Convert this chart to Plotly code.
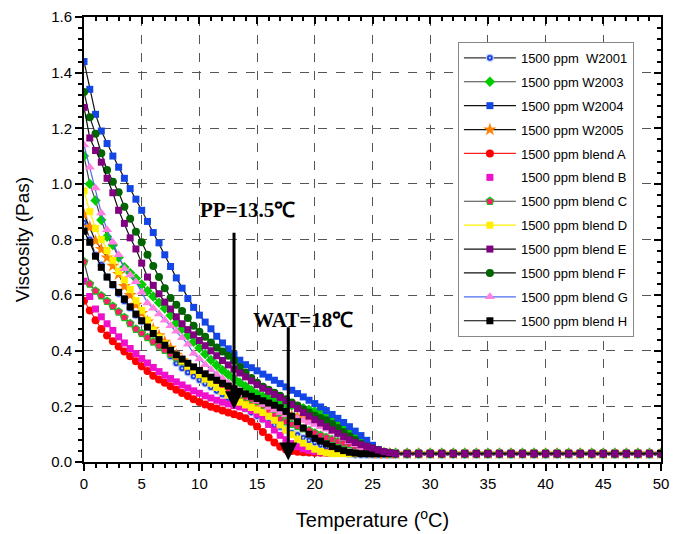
import plotly.graph_objects as go

# Temperature grid (deg C)
temperature = [0, 0.5, 1, 1.5, 2, 2.5, 3, 3.5, 4, 4.5,
               5, 5.5, 6, 6.5, 7, 7.5, 8, 8.5, 9, 9.5,
               10, 10.5, 11, 11.5, 12, 12.5, 13, 13.5, 14, 14.5,
               15, 15.5, 16, 16.5, 17, 17.5, 18, 18.5, 19, 19.5,
               20, 20.5, 21, 21.5, 22, 22.5, 23, 23.5, 24, 24.5,
               25, 25.5, 26, 26.5, 27,
               28, 29, 30, 31, 32, 33, 34, 35, 36, 37, 38, 39, 40,
               41, 42, 43, 44, 45, 46, 47, 48, 49, 50]

w2001 = [0.86, 0.80, 0.745, 0.71, 0.665, 0.635, 0.605, 0.578, 0.553, 0.527,
         0.505, 0.485, 0.46, 0.432, 0.405, 0.38, 0.355, 0.337, 0.322, 0.308,
         0.295, 0.282, 0.269, 0.256, 0.243, 0.23, 0.218, 0.205, 0.192, 0.178,
         0.165, 0.153, 0.141, 0.133, 0.126, 0.116, 0.105, 0.097, 0.087, 0.078,
         0.07, 0.062, 0.055, 0.048, 0.04, 0.033, 0.028, 0.026, 0.025, 0.025,
         0.025, 0.025, 0.025, 0.025, 0.025,
         0.025, 0.025, 0.025, 0.025, 0.025, 0.025, 0.025, 0.025, 0.025, 0.025, 0.025, 0.025, 0.025,
         0.025, 0.025, 0.025, 0.025, 0.025, 0.025, 0.025, 0.025, 0.025, 0.025]

w2003 = [1.10, 1.00, 0.94, 0.87, 0.81, 0.78, 0.735, 0.70, 0.68, 0.66,
         0.638, 0.615, 0.595, 0.573, 0.552, 0.527, 0.50, 0.478, 0.455, 0.432,
         0.41, 0.388, 0.367, 0.348, 0.33, 0.314, 0.299, 0.285, 0.272, 0.258,
         0.245, 0.236, 0.228, 0.221, 0.214, 0.208, 0.203, 0.198, 0.193, 0.188,
         0.183, 0.176, 0.168, 0.158, 0.145, 0.128, 0.11, 0.092, 0.075, 0.062,
         0.05, 0.041, 0.035, 0.031, 0.03,
         0.03, 0.03, 0.03, 0.03, 0.03, 0.03, 0.03, 0.03, 0.03, 0.03, 0.03, 0.03, 0.03,
         0.03, 0.03, 0.03, 0.03, 0.03, 0.03, 0.03, 0.03, 0.03, 0.03]

w2004 = [1.44, 1.34, 1.25, 1.19, 1.145, 1.10, 1.06, 1.02, 0.983, 0.945,
         0.905, 0.865, 0.825, 0.788, 0.745, 0.703, 0.662, 0.625, 0.588, 0.556,
         0.528, 0.503, 0.479, 0.452, 0.428, 0.407, 0.386, 0.366, 0.35, 0.339,
         0.328, 0.316, 0.305, 0.294, 0.282, 0.27, 0.258, 0.246, 0.234, 0.222,
         0.21, 0.198, 0.185, 0.171, 0.157, 0.142, 0.127, 0.111, 0.095, 0.078,
         0.06, 0.045, 0.035, 0.03, 0.028,
         0.028, 0.028, 0.028, 0.028, 0.028, 0.028, 0.028, 0.028, 0.028, 0.028, 0.028, 0.028, 0.028,
         0.028, 0.028, 0.028, 0.028, 0.028, 0.028, 0.028, 0.028, 0.028, 0.028]

w2005 = [0.89, 0.845, 0.795, 0.765, 0.735, 0.705, 0.675, 0.632, 0.60, 0.565,
         0.535, 0.505, 0.478, 0.455, 0.432, 0.41, 0.385, 0.365, 0.345, 0.33,
         0.316, 0.302, 0.29, 0.278, 0.265, 0.252, 0.24, 0.228, 0.217, 0.207,
         0.198, 0.19, 0.183, 0.178, 0.174, 0.17, 0.166, 0.162, 0.157, 0.152,
         0.146, 0.14, 0.132, 0.12, 0.105, 0.09, 0.075, 0.062, 0.05, 0.04,
         0.032, 0.03, 0.03, 0.03, 0.03,
         0.03, 0.03, 0.03, 0.03, 0.03, 0.03, 0.03, 0.03, 0.03, 0.03, 0.03, 0.03, 0.03,
         0.03, 0.03, 0.03, 0.03, 0.03, 0.03, 0.03, 0.03, 0.03, 0.03]

blend_a = [0.58, 0.545, 0.51, 0.478, 0.455, 0.434, 0.415, 0.397, 0.38, 0.362,
           0.344, 0.327, 0.31, 0.297, 0.285, 0.272, 0.26, 0.248, 0.237, 0.226,
           0.216, 0.207, 0.199, 0.192, 0.185, 0.178, 0.172, 0.165, 0.157, 0.145,
           0.128, 0.108, 0.088, 0.07, 0.055, 0.045, 0.04, 0.037, 0.035, 0.034,
           0.033, 0.033, 0.033, 0.033, 0.033, 0.033, 0.033, 0.033, 0.033, 0.033,
           0.033, 0.033, 0.033, 0.033, 0.033,
           0.033, 0.033, 0.033, 0.033, 0.033, 0.033, 0.033, 0.033, 0.033, 0.033, 0.033, 0.033, 0.033,
           0.033, 0.033, 0.033, 0.033, 0.033, 0.033, 0.033, 0.033, 0.033, 0.033]

blend_b = [0.65, 0.595, 0.55, 0.522, 0.497, 0.473, 0.45, 0.428, 0.408, 0.39,
           0.372, 0.356, 0.34, 0.325, 0.312, 0.30, 0.288, 0.277, 0.266, 0.256,
           0.247, 0.238, 0.23, 0.222, 0.215, 0.209, 0.203, 0.198, 0.193, 0.185,
           0.172, 0.155, 0.135, 0.115, 0.096, 0.08, 0.066, 0.055, 0.047, 0.042,
           0.038, 0.035, 0.033, 0.032, 0.032, 0.032, 0.032, 0.032, 0.032, 0.032,
           0.032, 0.032, 0.032, 0.032, 0.032,
           0.032, 0.032, 0.032, 0.032, 0.032, 0.032, 0.032, 0.032, 0.032, 0.032, 0.032, 0.032, 0.032,
           0.032, 0.032, 0.032, 0.032, 0.032, 0.032, 0.032, 0.032, 0.032, 0.032]

blend_c = [0.72, 0.64, 0.615, 0.598, 0.578, 0.56, 0.54, 0.52, 0.498, 0.478,
           0.463, 0.448, 0.432, 0.417, 0.402, 0.388, 0.375, 0.362, 0.349, 0.335,
           0.32, 0.306, 0.293, 0.281, 0.27, 0.26, 0.25, 0.242, 0.234, 0.226,
           0.218, 0.205, 0.185, 0.168, 0.155, 0.145, 0.136, 0.128, 0.12, 0.113,
           0.104, 0.096, 0.088, 0.081, 0.074, 0.068, 0.063, 0.055, 0.046, 0.038,
           0.034, 0.033, 0.033, 0.033, 0.033,
           0.033, 0.033, 0.033, 0.033, 0.033, 0.033, 0.033, 0.033, 0.033, 0.033, 0.033, 0.033, 0.033,
           0.033, 0.033, 0.033, 0.033, 0.033, 0.033, 0.033, 0.033, 0.033, 0.033]

blend_d = [0.975, 0.90, 0.84, 0.80, 0.76, 0.725, 0.685, 0.655, 0.62, 0.58,
           0.545, 0.51, 0.475, 0.448, 0.425, 0.403, 0.382, 0.363, 0.345, 0.33,
           0.314, 0.298, 0.283, 0.268, 0.254, 0.24, 0.227, 0.215, 0.205, 0.196,
           0.187, 0.178, 0.165, 0.15, 0.133, 0.115, 0.098, 0.082, 0.068, 0.056,
           0.046, 0.038, 0.033, 0.03, 0.03, 0.03, 0.03, 0.03, 0.03, 0.03,
           0.03, 0.03, 0.03, 0.03, 0.03,
           0.03, 0.03, 0.03, 0.03, 0.03, 0.03, 0.03, 0.03, 0.03, 0.03, 0.03, 0.03, 0.03,
           0.03, 0.03, 0.03, 0.03, 0.03, 0.03, 0.03, 0.03, 0.03, 0.03]

blend_e = [1.275, 1.165, 1.12, 1.078, 1.02, 0.968, 0.905, 0.858, 0.806, 0.766,
           0.715, 0.665, 0.635, 0.605, 0.575, 0.55, 0.522, 0.497, 0.476, 0.457,
           0.437, 0.418, 0.40, 0.382, 0.365, 0.349, 0.334, 0.32, 0.306, 0.292,
           0.278, 0.265, 0.254, 0.243, 0.232, 0.22, 0.207, 0.192, 0.178, 0.165,
           0.152, 0.14, 0.127, 0.115, 0.103, 0.091, 0.08, 0.07, 0.062, 0.056,
           0.05, 0.043, 0.037, 0.033, 0.03,
           0.03, 0.03, 0.03, 0.03, 0.03, 0.03, 0.03, 0.03, 0.03, 0.03, 0.03, 0.03, 0.03,
           0.03, 0.03, 0.03, 0.03, 0.03, 0.03, 0.03, 0.03, 0.03, 0.03]

blend_f = [1.33, 1.24, 1.18, 1.11, 1.05, 1.008, 0.97, 0.918, 0.875, 0.828,
           0.79, 0.745, 0.705, 0.665, 0.625, 0.59, 0.565, 0.543, 0.518, 0.49,
           0.468, 0.45, 0.43, 0.412, 0.397, 0.382, 0.364, 0.342, 0.322, 0.302,
           0.285, 0.271, 0.26, 0.249, 0.238, 0.226, 0.214, 0.203, 0.19, 0.178,
           0.167, 0.158, 0.15, 0.137, 0.122, 0.108, 0.093, 0.079, 0.066, 0.056,
           0.049, 0.042, 0.036, 0.032, 0.03,
           0.03, 0.03, 0.03, 0.03, 0.03, 0.03, 0.03, 0.03, 0.03, 0.03, 0.03, 0.03, 0.03,
           0.03, 0.03, 0.03, 0.03, 0.03, 0.03, 0.03, 0.03, 0.03, 0.03]

blend_g = [1.14, 1.06, 0.985, 0.895, 0.835, 0.79, 0.745, 0.695, 0.672, 0.648,
           0.61, 0.572, 0.553, 0.532, 0.51, 0.49, 0.47, 0.447, 0.423, 0.39,
           0.37, 0.35, 0.332, 0.315, 0.299, 0.284, 0.27, 0.256, 0.243, 0.231,
           0.219, 0.207, 0.196, 0.187, 0.178, 0.17, 0.163, 0.156, 0.149, 0.142,
           0.135, 0.127, 0.118, 0.108, 0.097, 0.085, 0.073, 0.062, 0.052, 0.044,
           0.038, 0.033, 0.03, 0.03, 0.03,
           0.03, 0.03, 0.03, 0.03, 0.03, 0.03, 0.03, 0.03, 0.03, 0.03, 0.03, 0.03, 0.03,
           0.03, 0.03, 0.03, 0.03, 0.03, 0.03, 0.03, 0.03, 0.03, 0.03]

blend_h = [0.83, 0.79, 0.74, 0.70, 0.665, 0.638, 0.61, 0.585, 0.558, 0.532,
           0.508, 0.485, 0.462, 0.44, 0.42, 0.402, 0.385, 0.37, 0.355, 0.342,
           0.329, 0.317, 0.305, 0.294, 0.283, 0.273, 0.263, 0.254, 0.245, 0.236,
           0.228, 0.22, 0.212, 0.204, 0.195, 0.182, 0.165, 0.145, 0.122, 0.10,
           0.085, 0.075, 0.065, 0.056, 0.048, 0.041, 0.035, 0.032, 0.03, 0.03,
           0.03, 0.03, 0.03, 0.03, 0.03,
           0.03, 0.03, 0.03, 0.03, 0.03, 0.03, 0.03, 0.03, 0.03, 0.03, 0.03, 0.03, 0.03,
           0.03, 0.03, 0.03, 0.03, 0.03, 0.03, 0.03, 0.03, 0.03, 0.03]

# name, values, marker symbol, marker colour, marker size, line colour (None = no line), legend rank, marker outline
series = [
    ("1500 ppm  W2001", w2001, "circle-dot", "#1a3fe0", 7, "#333333", 1, "#bcd0ff"),
    ("1500 ppm W2003", w2003, "diamond", "#00cc00", 8, "#444444", 2, "#00cc00"),
    ("1500 ppm W2004", w2004, "square", "#1446e6", 7, "#111111", 3, "#1446e6"),
    ("1500 ppm W2005", w2005, "star", "#ff8000", 10, "#111111", 4, "#ff8000"),
    ("1500 ppm blend A", blend_a, "circle", "#ff0000", 8, "#ff2020", 5, "#ff0000"),
    ("1500 ppm blend B", blend_b, "square", "#ee10cc", 7, None, 6, "#ee10cc"),
    ("1500 ppm blend C", blend_c, "pentagon", "#ff1a6e", 8, "#444444", 7, "#22bb22"),
    ("1500 ppm blend D", blend_d, "square", "#ffee00", 7, "#ffee00", 8, "#ffee00"),
    ("1500 ppm blend F", blend_f, "circle", "#006400", 8, "#111111", 10, "#006400"),
    ("1500 ppm blend G", blend_g, "triangle-up", "#ff80e0", 9, "#4a6cf0", 11, "#ff80e0"),
    ("1500 ppm blend H", blend_h, "square", "#000000", 7, "#000000", 12, "#000000"),
    ("1500 ppm blend E", blend_e, "square", "#800080", 7, "#111111", 9, "#800080"),
]

fig = go.Figure()
for name, vals, sym, mcol, msize, lcol, rank, mline in series:
    fig.add_trace(go.Scatter(
        x=temperature, y=vals, name=name,
        mode="lines+markers" if lcol else "markers",
        line=dict(color=lcol or mcol, width=1.2),
        marker=dict(symbol=sym, color=mcol, size=msize,
                    line=dict(color=mline, width=1.2 if sym in ("circle-dot", "pentagon") else 0)),
        legendrank=rank, legendgroup=name,
    ))

# helper empty trace so that the mirrored (inside-tick) axes get drawn
fig.add_trace(go.Scatter(x=[None], y=[None], xaxis="x2", yaxis="y2",
                         showlegend=False, hoverinfo="skip"))

axis_font = dict(family="Liberation Sans, Arial", size=15, color="black")
grid = dict(showgrid=True, gridcolor="#555555", griddash="dash", gridwidth=1)

fig.update_layout(
    width=673, height=534,
    margin=dict(l=84, r=12, t=17, b=72, autoexpand=False),
    paper_bgcolor="white", plot_bgcolor="white",
    font=dict(family="Liberation Sans, Arial", color="black"),
    xaxis=dict(range=[0, 50], tick0=0, dtick=5, ticks="outside", ticklen=7, tickwidth=1.5,
               tickcolor="black", showline=True, linewidth=2, linecolor="black",
               zeroline=False, tickfont=axis_font, automargin=False,
               minor=dict(dtick=1, ticks="outside", ticklen=4, tickcolor="black", showgrid=False),
               title=dict(text="Temperature (<sup>o</sup>C)",
                          font=dict(family="Liberation Sans, Arial", size=20), standoff=22),
               **grid),
    yaxis=dict(range=[0, 1.6], tick0=0, dtick=0.2, tickformat=".1f", ticks="outside", ticklen=7,
               tickwidth=1.5, tickcolor="black", showline=True, linewidth=2, linecolor="black",
               zeroline=False, tickfont=axis_font, automargin=False,
               minor=dict(dtick=0.04, ticks="outside", ticklen=4, tickcolor="black", showgrid=False),
               title=dict(text="Viscosity (Pas)",
                          font=dict(family="Liberation Sans, Arial", size=19), standoff=16),
               **grid),
    xaxis2=dict(overlaying="x", side="top", range=[0, 50], tick0=0, dtick=5, ticks="inside",
                ticklen=7, tickwidth=1.5, tickcolor="black", showline=True, linewidth=1.5,
                linecolor="black", showticklabels=False, showgrid=False, zeroline=False,
                automargin=False,
                minor=dict(dtick=1, ticks="inside", ticklen=4, tickcolor="black", showgrid=False)),
    yaxis2=dict(overlaying="y", side="right", range=[0, 1.6], tick0=0, dtick=0.2, ticks="inside",
                ticklen=7, tickwidth=1.5, tickcolor="black", showline=True, linewidth=1.5,
                linecolor="black", showticklabels=False, showgrid=False, zeroline=False,
                automargin=False,
                minor=dict(dtick=0.04, ticks="inside", ticklen=4, tickcolor="black", showgrid=False)),
    legend=dict(x=0.648, y=0.944, xanchor="left", yanchor="top",
                bgcolor="white", bordercolor="#888888", borderwidth=1,
                font=dict(family="Liberation Sans, Arial", size=13),
                itemwidth=52, tracegroupgap=4, traceorder="grouped"),
    showlegend=True,
)

serif_bold = dict(family="Liberation Serif, Times New Roman", size=21, color="black")
fig.add_annotation(x=14.2, y=0.905, xref="x", yref="y", text="<b>PP=13.5℃</b>",
                   showarrow=False, font=serif_bold)
fig.add_annotation(x=13.0, y=0.19, ax=13.0, ay=0.83, xref="x", yref="y", axref="x", ayref="y",
                   showarrow=True, arrowhead=2, arrowsize=1.2, arrowwidth=3, arrowcolor="black", text="")
fig.add_annotation(x=19.0, y=0.51, xref="x", yref="y", text="<b>WAT=18℃</b>",
                   showarrow=False, font=serif_bold)
fig.add_annotation(x=17.7, y=0.005, ax=17.7, ay=0.49, xref="x", yref="y", axref="x", ayref="y",
                   showarrow=True, arrowhead=2, arrowsize=1.2, arrowwidth=3, arrowcolor="black", text="")

fig.write_html("out.html", config={"displayModeBar": False},
               post_script="document.body.style.margin='0';")
